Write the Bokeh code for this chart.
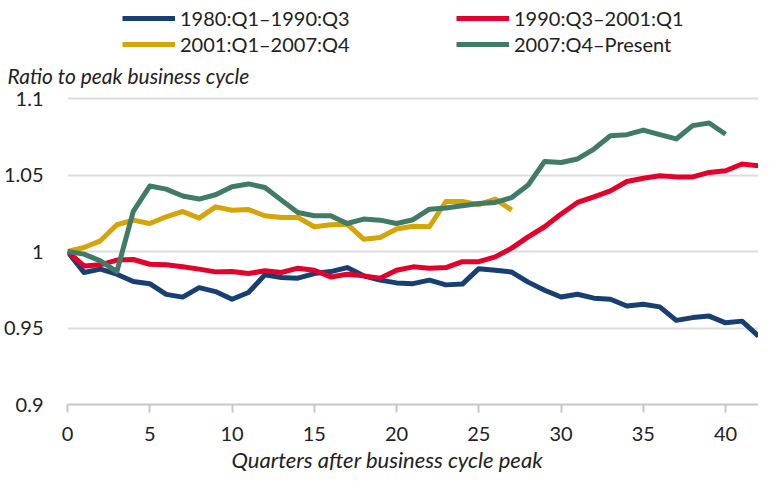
from bokeh.plotting import figure
from bokeh.layouts import column
from bokeh.models import Legend, LegendItem, Title, FixedTicker, PrintfTickFormatter, Range1d
from bokeh.embed import file_html
from bokeh.resources import INLINE

series_names = ["1980:Q1\u20131990:Q3", "1990:Q3\u20132001:Q1", "2001:Q1\u20132007:Q4", "2007:Q4\u2013Present"]

blue_1980 = [1.0, 0.9863, 0.9885, 0.9852, 0.9804, 0.979, 0.972, 0.9702, 0.9764, 0.9738,
             0.9688, 0.9732, 0.9848, 0.983, 0.9826, 0.9856, 0.9869, 0.9895, 0.9841, 0.9813,
             0.9795, 0.979, 0.9813, 0.9782, 0.9787, 0.9888, 0.9877, 0.9866, 0.980, 0.9747,
             0.9703, 0.9721, 0.9695, 0.9688, 0.9644, 0.9655, 0.9638, 0.955, 0.9568, 0.9578,
             0.9534, 0.9545, 0.9447]
red_1990 = [1.0, 0.9906, 0.9913, 0.9944, 0.9948, 0.9917, 0.9913, 0.99, 0.9885, 0.9867,
            0.987, 0.9856, 0.9874, 0.9863, 0.9891, 0.9878, 0.9834, 0.9852, 0.9841, 0.9826,
            0.9878, 0.99, 0.9891, 0.9895, 0.9934, 0.9934, 0.9965, 1.0022, 1.0096, 1.0162,
            1.0245, 1.0321, 1.0358, 1.0397, 1.0458, 1.0479, 1.0495, 1.0488, 1.0488, 1.0517,
            1.0528, 1.0572, 1.0561]
yellow_2001 = [1.0, 1.0026, 1.007, 1.0175, 1.0205, 1.0183, 1.0227, 1.0262, 1.0218, 1.0292,
               1.027, 1.0274, 1.0234, 1.0223, 1.0223, 1.0162, 1.0175, 1.0179, 1.0081, 1.0092,
               1.0147, 1.0165, 1.0162, 1.0327, 1.0327, 1.0306, 1.0343, 1.0271]
green_2007 = [1.0, 0.9983, 0.9939, 0.9869, 1.0262, 1.0428, 1.0408, 1.0363, 1.0343, 1.0371,
              1.0424, 1.0442, 1.0419, 1.0336, 1.0255, 1.0234, 1.0234, 1.0183, 1.0212, 1.0205,
              1.0183, 1.0208, 1.0277, 1.0284, 1.0299, 1.0314, 1.0321, 1.0353, 1.0435, 1.0589,
              1.0582, 1.0605, 1.067, 1.0757, 1.0764, 1.0794, 1.0764, 1.0736, 1.0823, 1.084,
              1.0767]

x_ticks = [0, 5, 10, 15, 20, 25, 30, 35, 40]
y_ticks = [0.9, 0.95, 1.0, 1.05, 1.1]
colors = ["#173f72", "#e4002b", "#d5a406", "#3f7b67"]
all_series = [blue_1980, red_1990, yellow_2001, green_2007]
FONT = "Lato"
TXT = "#222222"

# ---- header figure: legend ----
top = figure(width=758, height=53, output_backend="svg", toolbar_location=None,
             x_range=Range1d(0, 42), y_range=Range1d(0.9, 1.1),
             x_axis_location=None, y_axis_location=None, min_border=0)
top.outline_line_color = None
top.xgrid.grid_line_color = None
top.ygrid.grid_line_color = None
top_renderers = []
for vals, c in zip(all_series, colors):
    r = top.line(list(range(len(vals))), vals, line_color=c, line_width=5, visible=False)
    top_renderers.append(r)

order = [0, 2, 1, 3]
items = [LegendItem(label=series_names[i], renderers=[top_renderers[i]]) for i in order]
legend = Legend(items=items, ncols=2, location=(55, -3), orientation="vertical",
                glyph_width=53, glyph_height=22, label_height=22, label_standoff=5,
                label_width=274, spacing=2, padding=0, margin=0,
                label_text_font=FONT, label_text_font_size="20px", label_text_color=TXT,
                border_line_color=None, background_fill_alpha=0, inactive_fill_alpha=0)
top.add_layout(legend, "center")

# ---- main chart ----
p = figure(width=758, height=420, output_backend="svg", toolbar_location=None,
           x_range=Range1d(0, 42), y_range=Range1d(0.9, 1.102),
           min_border_left=60, min_border_right=0, min_border_top=12, min_border_bottom=69)
p.outline_line_color = None

p.title.text = "Ratio to peak business cycle"
p.title.align = "left"
p.title.offset = -60
p.title.standoff = 15
p.title.text_font = FONT
p.title.text_font_size = "21px"
p.title.text_font_style = "italic"
p.title.text_color = TXT

for vals, c in zip(all_series, colors):
    p.line(list(range(len(vals))), vals, line_color=c, line_width=5, line_join="round")

p.xgrid.grid_line_color = None
p.ygrid.grid_line_color = "#dddddd"
p.ygrid.grid_line_width = 2
p.ygrid.ticker = FixedTicker(ticks=y_ticks)

p.xaxis.ticker = FixedTicker(ticks=x_ticks)
p.xaxis.axis_line_color = "#c8c8c8"
p.xaxis.axis_line_width = 2
p.xaxis.major_tick_line_color = "#c8c8c8"
p.xaxis.major_tick_line_width = 2
p.xaxis.major_tick_out = 8
p.xaxis.major_tick_in = 0
p.xaxis.minor_tick_line_color = None
p.xaxis.major_label_standoff = 14
p.xaxis.major_label_text_font = FONT
p.xaxis.major_label_text_font_size = "20px"
p.xaxis.major_label_text_color = TXT

xtitle = Title(text="Quarters after business cycle peak", align="left", offset=164, standoff=1,
               text_font=FONT, text_font_size="22px", text_font_style="italic",
               text_color=TXT)
p.add_layout(xtitle, "below")

p.yaxis.ticker = FixedTicker(ticks=y_ticks)
p.yaxis.formatter = PrintfTickFormatter(format="%g")
p.yaxis.axis_line_color = None
p.yaxis.major_tick_line_color = None
p.yaxis.minor_tick_line_color = None
p.yaxis.major_label_standoff = 18
p.yaxis.major_label_text_font = FONT
p.yaxis.major_label_text_font_size = "20px"
p.yaxis.major_label_text_color = TXT

layout = column(top, p, spacing=0)
open("out.html", "w").write(file_html(layout, INLINE))
